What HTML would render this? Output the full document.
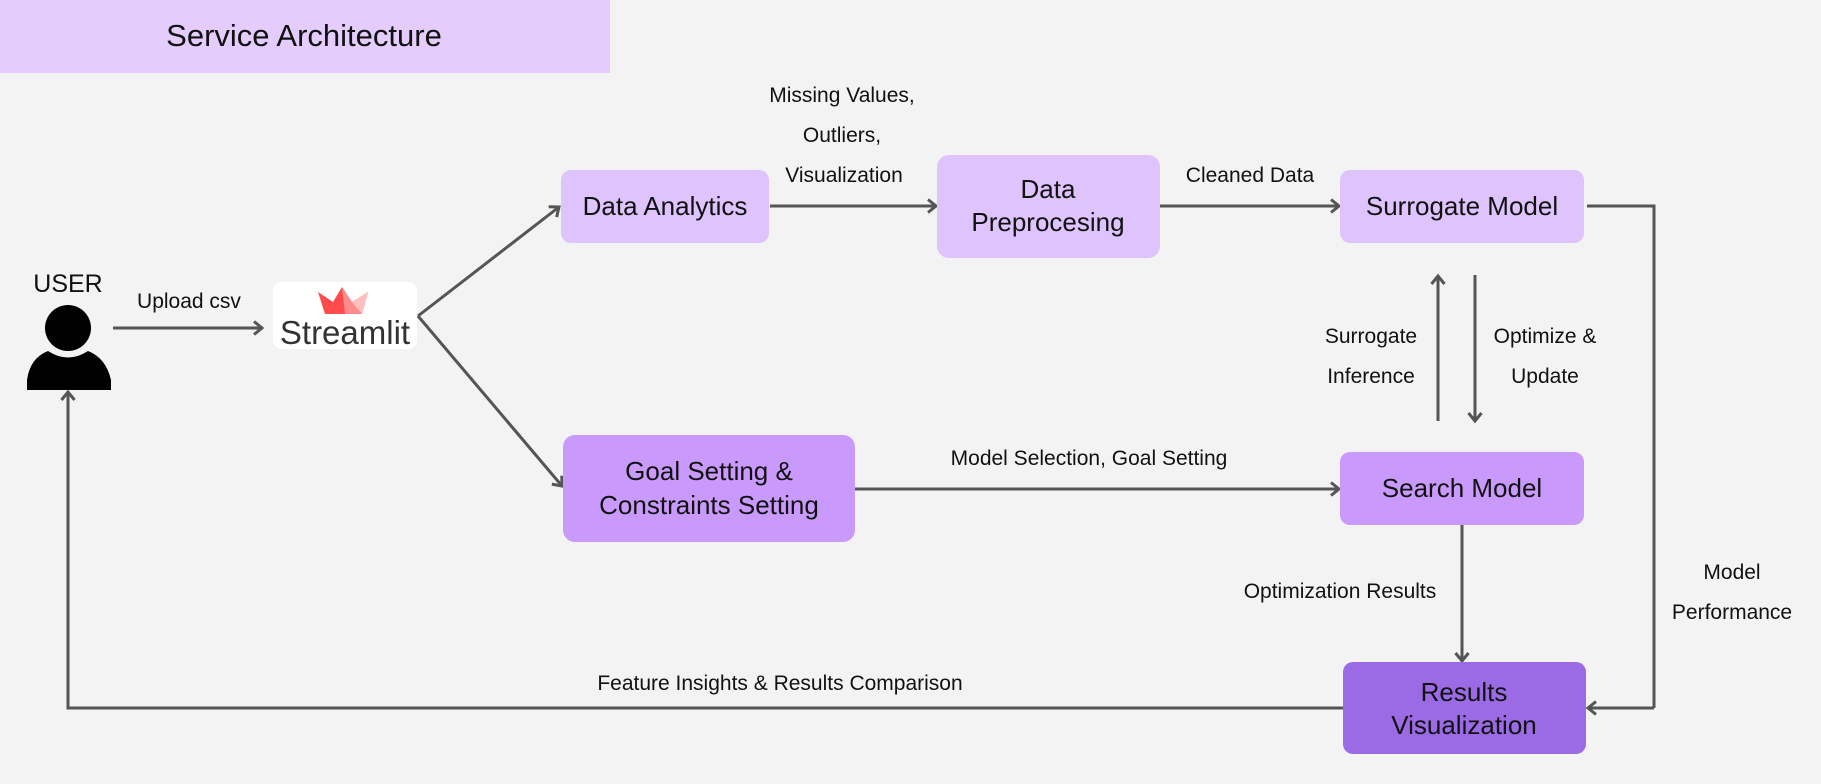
<!DOCTYPE html>
<html><head><meta charset="utf-8"><style>
html,body{margin:0;padding:0;background:#f3f3f3;}
svg{display:block;font-family:"Liberation Sans","Noto Sans CJK KR",sans-serif;}
</style></head><body>
<svg width="1821" height="784" viewBox="0 0 1821 784" xmlns="http://www.w3.org/2000/svg">
<defs>
<marker id="a" markerWidth="16" markerHeight="16" refX="11" refY="8" orient="auto" markerUnits="userSpaceOnUse">
<path d="M3,1.5 L11,8 L3,14.5" fill="none" stroke="#555" stroke-width="3"/>
</marker>
</defs>
<rect width="1821" height="784" fill="#f3f3f3"/>
<rect x="0" y="0" width="610" height="73" fill="#e4cdfc"/>
<text x="304" y="46" font-size="31" text-anchor="middle" fill="#111">Service Architecture</text>

<!-- user -->
<text x="68" y="292" font-size="25" text-anchor="middle" fill="#111">USER</text>
<circle cx="68" cy="328" r="23" fill="#000"/>
<path d="M27,390 L27,380 Q30,358 48,351 Q68,364 88,351 Q106,358 111,380 L111,390 Z" fill="#000"/>

<g stroke="#555" stroke-width="3" fill="none">
<line x1="113" y1="328" x2="262" y2="328" marker-end="url(#a)"/>
<line x1="418" y1="316" x2="559" y2="207" marker-end="url(#a)"/>
<line x1="418" y1="316" x2="562" y2="486" marker-end="url(#a)"/>
<line x1="770" y1="206" x2="936" y2="206" marker-end="url(#a)"/>
<line x1="1160" y1="206" x2="1339" y2="206" marker-end="url(#a)"/>
<polyline points="1587,206 1654,206 1654,708"/>
<line x1="1654" y1="708" x2="1588" y2="708" marker-end="url(#a)"/>
<line x1="1438" y1="421" x2="1438" y2="276" marker-end="url(#a)"/>
<line x1="1475" y1="275" x2="1475" y2="421" marker-end="url(#a)"/>
<line x1="855" y1="489" x2="1339" y2="489" marker-end="url(#a)"/>
<line x1="1462" y1="525" x2="1462" y2="661" marker-end="url(#a)"/>
<polyline points="1343,708 68,708 68,394"/>
<line x1="68" y1="420" x2="68" y2="392" marker-end="url(#a)"/>
</g>

<!-- streamlit -->
<rect x="273" y="282" width="144" height="67" rx="9" fill="#fff"/>
<polygon points="318,292 333,302 342,287 352,302 368,292 362,314 325,314" fill="#ff4b4b"/>
<polygon points="342,287 352,302 368,292 362,314 345,314" fill="#ff8c8c"/>
<polygon points="352,302 368,292 362,314" fill="#ffc0c0"/>
<text x="345" y="344" font-size="33" text-anchor="middle" fill="#333">Streamlit</text>

<text x="189" y="308" font-size="21" text-anchor="middle" fill="#111">Upload csv</text>

<!-- boxes -->
<rect x="561" y="170" width="208" height="73" rx="10" fill="#dfc3fd"/>
<text x="665" y="215" font-size="26" text-anchor="middle" fill="#111">Data Analytics</text>

<rect x="937" y="155" width="223" height="103" rx="12" fill="#dfc3fd"/>
<text x="1048" y="198" font-size="26" text-anchor="middle" fill="#111">Data</text>
<text x="1048" y="231" font-size="26" text-anchor="middle" fill="#111">Preprocesing</text>

<rect x="1340" y="170" width="244" height="73" rx="10" fill="#dfc3fd"/>
<text x="1462" y="215" font-size="26" text-anchor="middle" fill="#111">Surrogate Model</text>

<rect x="563" y="435" width="292" height="107" rx="12" fill="#c99afc"/>
<text x="709" y="480" font-size="26" text-anchor="middle" fill="#111">Goal Setting &amp;</text>
<text x="709" y="514" font-size="26" text-anchor="middle" fill="#111">Constraints Setting</text>

<rect x="1340" y="452" width="244" height="73" rx="10" fill="#c99afc"/>
<text x="1462" y="497" font-size="26" text-anchor="middle" fill="#111">Search Model</text>

<rect x="1343" y="662" width="243" height="92" rx="10" fill="#9b6be6"/>
<text x="1464" y="701" font-size="26" text-anchor="middle" fill="#111">Results</text>
<text x="1464" y="734" font-size="26" text-anchor="middle" fill="#111">Visualization</text>

<!-- labels -->
<g font-size="21" fill="#111" text-anchor="middle">
<text x="842" y="102">Missing Values,</text>
<text x="842" y="142">Outliers,</text>
<text x="844" y="182">Visualization</text>
<text x="1250" y="182">Cleaned Data</text>
<text x="1371" y="343">Surrogate</text>
<text x="1371" y="383">Inference</text>
<text x="1545" y="343">Optimize &amp;</text>
<text x="1545" y="383">Update</text>
<text x="1089" y="465">Model Selection, Goal Setting</text>
<text x="1340" y="598">Optimization Results</text>
<text x="1732" y="579">Model</text>
<text x="1732" y="619">Performance</text>
<text x="780" y="690">Feature Insights &amp; Results Comparison</text>
</g>
</svg>
</body></html>
